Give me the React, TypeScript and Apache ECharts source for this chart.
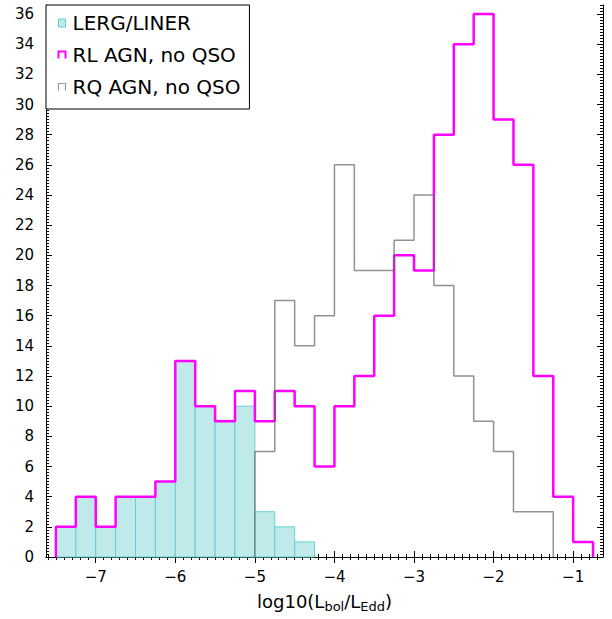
import React, { useEffect, useRef } from 'react';
import * as echarts from 'echarts';

// ---- data (histogram counts, bin width 0.25 in log10(Lbol/LEdd)) ----
const BIN_WIDTH = 0.25;
const lergStart = -7.5;
const lergCounts = [2, 4, 2, 4, 4, 5, 13, 10, 9, 10, 3, 2, 1];
const rlStart = -7.5;
const rlCounts = [2, 4, 2, 4, 4, 5, 13, 10, 9, 11, 9, 11, 10, 6, 10, 12, 16, 20, 19, 28, 34, 36, 29, 26, 12, 4, 1];
const rqStart = -5.0;
const rqCounts = [7, 17, 14, 16, 26, 19, 19, 21, 24, 18, 12, 9, 7, 3, 3];

const seriesNames = ['LERG/LINER', 'RL AGN, no QSO', 'RQ AGN, no QSO'];
const xTicks = [-7, -6, -5, -4, -3, -2, -1];
const yTicks = [0, 2, 4, 6, 8, 10, 12, 14, 16, 18, 20, 22, 24, 26, 28, 30, 32, 34, 36];
const X_MIN = -7.625;
const X_MAX = -0.625;
const Y_MIN = 0;
const Y_MAX = 36.6;
const X_MINOR_STEP = 0.1;
const Y_MINOR_STEP = 0.2;

const FONT = 'DejaVu Sans';

function minorValues(min: number, max: number, step: number): number[] {
  const out: number[] = [];
  const start = Math.ceil(min / step - 1e-9);
  const end = Math.floor(max / step + 1e-9);
  for (let i = start; i <= end; i++) out.push(Math.round(i * step * 1000) / 1000);
  return out;
}

function stepData(start: number, counts: number[]): number[][] {
  const pts: number[][] = [[start, 0]];
  counts.forEach((c, i) => pts.push([start + i * BIN_WIDTH, c]));
  pts.push([start + counts.length * BIN_WIDTH, 0]);
  return pts;
}

function barData(start: number, counts: number[]): number[][] {
  return counts.map((c, i) => [start + i * BIN_WIDTH, start + (i + 1) * BIN_WIDTH, c]);
}

const fmtMinus = (v: number) => (v < 0 ? '\u2212' + String(Math.abs(v)) : String(v));

export default function App() {
  const ref = useRef<HTMLDivElement>(null);

  useEffect(() => {
    if (!ref.current) return;
    const chart = echarts.init(ref.current, null, { renderer: 'svg' });
    const xMinor = minorValues(X_MIN, X_MAX, X_MINOR_STEP);
    const yMinor = minorValues(Y_MIN, Y_MAX, Y_MINOR_STEP);

    const axisLineStyle = { show: true, lineStyle: { color: '#000', width: 1 } };

    const xBase = (position: 'top' | 'bottom', major: boolean, labels: boolean) => ({
      type: 'value',
      position,
      min: X_MIN,
      max: X_MAX,
      axisLine: major ? axisLineStyle : { show: false },
      axisTick: {
        show: true,
        inside: true,
        length: major ? 6 : 3,
        customValues: major ? xTicks : xMinor,
        lineStyle: { color: '#000', width: 1 },
      },
      axisLabel: labels
        ? {
            show: true,
            customValues: xTicks,
            formatter: fmtMinus,
            fontSize: 15,
            fontFamily: FONT,
            color: '#000',
            margin: 12,
          }
        : { show: false },
      splitLine: { show: false },
    });

    const yBase = (position: 'left' | 'right', major: boolean, labels: boolean) => ({
      type: 'value',
      position,
      min: Y_MIN,
      max: Y_MAX,
      axisLine: major ? axisLineStyle : { show: false },
      axisTick: {
        show: true,
        inside: true,
        length: major ? 6 : 3,
        customValues: major ? yTicks : yMinor,
        lineStyle: { color: '#000', width: 1 },
      },
      axisLabel: labels
        ? {
            show: true,
            customValues: yTicks,
            fontSize: 15,
            fontFamily: FONT,
            color: '#000',
            margin: 12,
          }
        : { show: false },
      splitLine: { show: false },
    });

    const xMain: any = xBase('bottom', true, true);
    xMain.name = 'log10(L{sub|bol}/L{sub|Edd})';
    xMain.nameLocation = 'middle';
    xMain.nameGap = 35;
    xMain.nameTextStyle = {
      fontSize: 18,
      fontFamily: FONT,
      color: '#000',
      lineHeight: 18,
      rich: {
        sub: { fontSize: 13, fontFamily: FONT, color: '#000', lineHeight: 13, padding: [10, 0, 0, 0] },
      },
    };

    chart.setOption({
      animation: false,
      backgroundColor: '#fff',
      grid: { left: 46, top: 5, width: 557, height: 552, containLabel: false },
      xAxis: [xMain, xBase('bottom', false, false), xBase('top', true, false), xBase('top', false, false)],
      yAxis: [yBase('left', true, true), yBase('left', false, false), yBase('right', true, false), yBase('right', false, false)],
      legend: {
        orient: 'vertical',
        left: 46,
        top: 5,
        padding: [8, 9, 12, 10],
        itemWidth: 7,
        itemHeight: 8,
        itemGap: 12,
        borderColor: '#000',
        borderWidth: 1,
        borderRadius: 0,
        backgroundColor: '#fff',
        selectedMode: false,
        textStyle: { fontSize: 20, fontFamily: FONT, color: '#000', lineHeight: 20, padding: [0, 0, 0, 2] },
        data: [
          {
            name: seriesNames[0],
            icon: 'rect',
            itemStyle: { color: '#c0eaea', borderColor: '#5ccccc', borderWidth: 1 },
          },
          {
            name: seriesNames[1],
            icon: 'path://M0,10L0,0L10,0L10,10',
            itemStyle: { color: 'none', borderColor: '#ff00ff', borderWidth: 2 },
          },
          {
            name: seriesNames[2],
            icon: 'path://M0,10L0,0L10,0L10,10',
            itemStyle: { color: 'none', borderColor: '#999999', borderWidth: 1.2 },
          },
        ],
      },
      series: [
        {
          name: seriesNames[0],
          type: 'custom',
          xAxisIndex: 0,
          yAxisIndex: 0,
          encode: { x: [0, 1], y: 2 },
          itemStyle: { color: '#c0eaea' },
          data: barData(lergStart, lergCounts),
          renderItem: (params: any, api: any) => {
            const p0 = api.coord([api.value(0), 0]);
            const p1 = api.coord([api.value(1), api.value(2)]);
            return {
              type: 'rect',
              shape: { x: p0[0], y: p1[1], width: p1[0] - p0[0], height: p0[1] - p1[1] },
              style: { fill: '#c0eaea', stroke: '#66cfcf', lineWidth: 1 },
            };
          },
          z: 1,
        },
        {
          name: seriesNames[1],
          type: 'line',
          xAxisIndex: 0,
          yAxisIndex: 0,
          step: 'end',
          symbol: 'none',
          showSymbol: false,
          itemStyle: { color: '#ff00ff' },
          lineStyle: { color: '#ff00ff', width: 2.5 },
          data: stepData(rlStart, rlCounts),
          z: 3,
        },
        {
          name: seriesNames[2],
          type: 'line',
          xAxisIndex: 0,
          yAxisIndex: 0,
          step: 'end',
          symbol: 'none',
          showSymbol: false,
          itemStyle: { color: '#909090' },
          lineStyle: { color: 'rgba(100,100,100,0.7)', width: 1.5 },
          data: stepData(rqStart, rqCounts),
          z: 4,
        },
      ],
    });

    return () => chart.dispose();
  }, []);

  return (
    <div
      ref={ref}
      style={{ position: 'fixed', left: 0, top: 0, width: 612, height: 619, background: '#fff' }}
    />
  );
}
